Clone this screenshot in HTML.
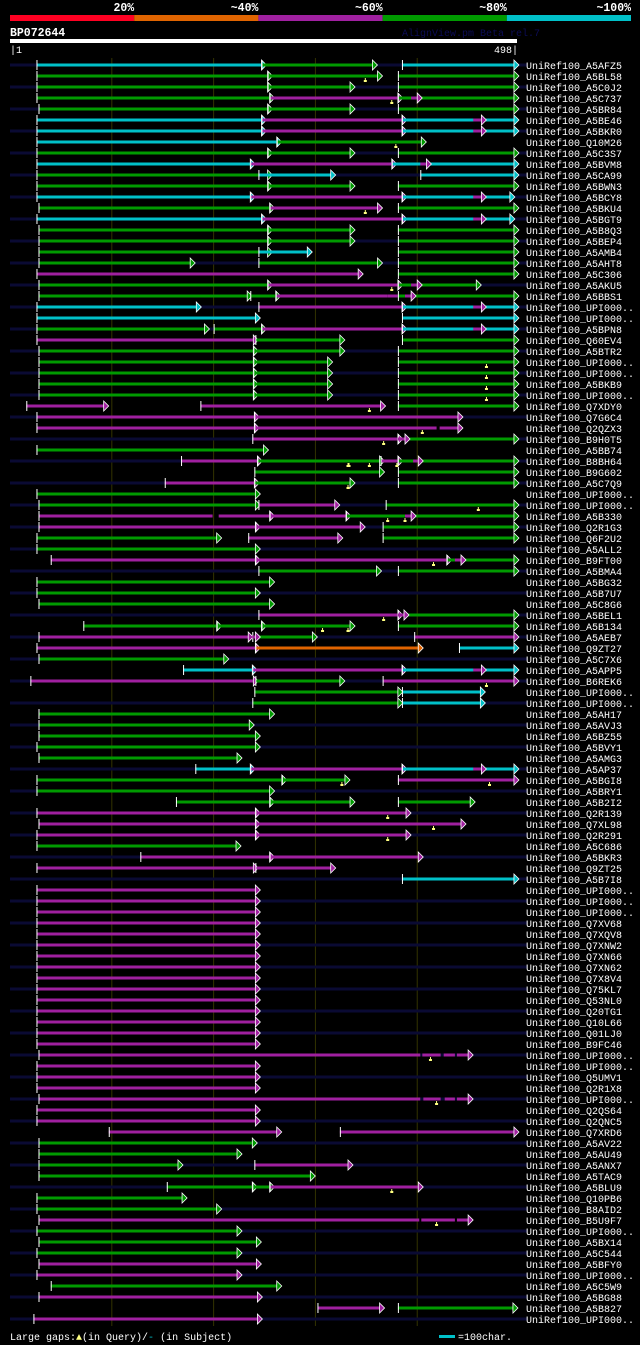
<!DOCTYPE html>
<html><head><meta charset="utf-8"><style>
html,body{margin:0;padding:0;background:#000;}
svg{display:block;font-family:"Liberation Mono",monospace;}
</style></head><body>
<svg id="chart" width="640" height="1345" viewBox="0 0 640 1345" xmlns="http://www.w3.org/2000/svg">
<rect x="0" y="0" width="640" height="1345" fill="#000"/>
<g id="legendbar"></g>
<text x="10" y="36" fill="#fff" font-size="11.5" font-weight="bold">BP072644</text>
<text x="402" y="36" fill="#0c0c55" font-size="10">AlignView.pm Beta rel.7</text>
<rect x="10" y="39" width="507" height="4" fill="#fff"/>
<text x="10" y="53" fill="#fff" font-size="10">|1</text>
<text x="518" y="53" fill="#fff" font-size="10" text-anchor="end">498|</text>
<g id="grid"></g>
<g id="rows"></g>
<text x="10" y="1340" fill="#fff" font-size="10">Large gaps:<tspan fill="#ffff80">▲</tspan>(in Query)/<tspan fill="#00c0c8">-</tspan> (in Subject)</text>
<rect x="439" y="1335" width="16" height="3" fill="#00c0c8"/>
<text x="458" y="1340" fill="#fff" font-size="10">=100char.</text>
</svg>
<script>
const legendLabels = ["20%","~40%","~60%","~80%","~100%"];
const legendColors = ["#ff0022","#e06400","#a020a0","#009a00","#00c0c8"];
const queryLength = 498;
const gridTicks = [100,200,300,400];
const rowLabels = ["A5AFZ5","A5BL58","A5C0J2","A5C737","A5BR84","A5BE46","A5BKR0","Q10M26","A5C3S7","A5BVM8","A5CA99","A5BWN3","A5BCY8","A5BKU4","A5BGT9","A5B8Q3","A5BEP4","A5AMB4","A5AHT8","A5C306","A5AKU5","A5BBS1","UPI000..","UPI000..","A5BPN8","Q60EV4","A5BTR2","UPI000..","UPI000..","A5BKB9","UPI000..","Q7XDY0","Q7G6C4","Q2QZX3","B9H0T5","A5BB74","B8BH64","B9G602","A5C7Q9","UPI000..","UPI000..","A5B330","Q2R1G3","Q6F2U2","A5ALL2","B9FT00","A5BMA4","A5BG32","A5B7U7","A5C8G6","A5BEL1","A5B134","A5AEB7","Q9ZT27","A5C7X6","A5APP5","B6REK6","UPI000..","UPI000..","A5AH17","A5AVJ3","A5BZ55","A5BVY1","A5AMG3","A5AP37","A5BGI8","A5BRY1","A5B2I2","Q2R139","Q7XL98","Q2R291","A5C686","A5BKR3","Q9ZT25","A5B7I8","UPI000..","UPI000..","UPI000..","Q7XV68","Q7XQV8","Q7XNW2","Q7XN66","Q7XN62","Q7X8V4","Q75KL7","Q53NL0","Q20TG1","Q10L66","Q01LJ0","B9FC46","UPI000..","UPI000..","Q5UMV1","Q2R1X8","UPI000..","Q2QS64","Q2QNC5","Q7XRD6","A5AV22","A5AU49","A5ANX7","A5TAC9","A5BLU9","Q10PB6","B8AID2","B5U9F7","UPI000..","A5BX14","A5C544","A5BFY0","UPI000..","A5C5W9","A5BG88","A5B827","UPI000.."];
const M41 = "26-241m";
const rowSegments = ["26-247c,247-356g,385-495c","26-253g,253-361g,381-495g","26-253g,253-334g,381-495g","26-255g,255-381m,381-495g,394-400M","28-253g,253-334g,381-495g","26-247c,247-385m,385-495c,455-463M","26-247c,247-385m,385-495c,455-463M","26-262c,262-404g","26-253g,253-334g,381-495g","26-236c,236-375m,375-495c,403-409M","26-253g,244-315c,403-495c","26-253g,253-334g,381-495g","26-236c,236-385m,385-491c,455-463M","28-255g,255-361m,381-495g","26-247c,247-385m,385-491c,455-463M","28-253g,253-334g,381-495g","28-253g,253-334g,381-495g","28-253g,244-292c,381-495g","28-177g,244-361g,381-495g","26-342m,381-495g","28-253g,253-381m,381-458g,394-400M","28-233g,236-261g,261-371m*,371-381M*,381-495g,388-394M","26-183c,244-385m,385-495c,455-463M","26-241c,385-495c","26-191g,200-247g,247-385m,385-495c,455-463M","26-239m,241-324g,385-495g","28-239g,239-324g,381-495g","28-239g,239-312g,381-495g","28-239g,239-312g,381-495g","28-239g,239-312g,381-495g","28-239g,239-312g,381-495g","16-92m,187-364m,381-495g","26-240m,240-440m","26-240m,240-419m*,422-440M","238-381m,381-495g,381-388M","26-249g","168-243m,243-363g,364-381m,381-495g,396-401M","240-363g,381-495g","152-240m,240-334g,381-495g","26-241g","28-241g,244-319m,369-495g","28-199m*,205-255M,255-330m,330-495g,388-394M","28-241m,241-344m,366-495g","26-203g,234-322m,366-495g","26-241g","40-241m,241-429m,429-495g,437-443M","244-360g,381-495g","26-255g","26-241g","28-255g","244-381m,381-495g,381-387M","72-203g,203-247g,247-334g,381-495g","28-234m,238-297g,397-495m,238-241M","26-241m,241-401o,441-495c","28-210g","170-238c,238-385m,385-495c,455-463M","20-239m,241-324g,366-495m","240-381g,385-462c","238-381g,385-462c","28-255g","28-235g","28-241g","26-241g","28-223g","182-236c,236-385m,385-495c,455-463M","26-267g,267-329g,381-495m","26-205g*,205-255G","163-255g,255-334g,381-452g","26-241m,241-389m","28-241m,241-443m","26-241m,241-389m","26-222g","128-255m,255-401m","26-239m,241-315m","385-495c",M41,M41,M41,M41,M41,M41,M41,M41,M41,M41,M41,M41,M41,M41,M41,"28-403m*,405-423M*,426-437M*,439-450M",M41,M41,M41,"28-403m*,406-423M*,427-437M*,439-450M",M41,M41,"97-262m,324-495m","28-238g","28-223g","28-165g,240-332m","28-295g","154-238g,238-255g,255-401m","26-169g","26-203g","28-402m*,404-437M*,439-450M","26-223g","28-242g","26-223g","28-242m","26-223m","40-262g","28-243m","302-363m,381-494g","23-243m"];
const gapRows = [2,4,8,14,21,28,29,30,31,32,34,35,37,37,37,37,39,41,42,42,46,51,52,52,57,66,66,69,70,71,91,95,103,106];
const gapPositions = [349,375,379,349,375,468,468,468,468,353,405,367,332,333,353,380,332,460,371,388,416,367,307,332,468,326,471,371,416,371,413,419,375,419];

const NS = "http://www.w3.org/2000/svg";
const colorMap = {c:"#00c0c8", g:"#009a00", m:"#a020a0", o:"#e06400"};
const X0 = 10, PX = 507/queryLength;
function xs(r){ return X0 + r*PX; }
function rowY(i){ return 65 + i*11; }
function mk(tag, attrs, parent){
  const el = document.createElementNS(NS, tag);
  for (const k in attrs) el.setAttribute(k, attrs[k]);
  parent.appendChild(el);
  return el;
}
const lg = document.getElementById('legendbar');
legendLabels.forEach((lab, i) => {
  const r = mk('rect', {x: 10 + i*124.2, y: 15, width: 124.2, height: 6, fill: legendColors[i]}, lg);
  
  
  const t = mk('text', {x: 10 + (i+1)*124.2, y: 11, fill: '#fff', 'font-size': 11.5, 'font-weight': 'bold', 'text-anchor': 'end'}, lg);
  t.textContent = lab;
  
  
});
const gg = document.getElementById('grid');
gridTicks.forEach(v => {
  const l = mk('line', {x1: xs(v), x2: xs(v), y1: 58, y2: 1326, stroke: '#333300', 'stroke-width': 1}, gg);
  
  
});
const rg = document.getElementById('rows');
rowLabels.forEach((lab, i) => {
  const y = rowY(i);
  const g = mk('g', {}, rg);
  
  
  if (i % 2 === 0) {
    const bg = mk('rect', {x: 10, y: y-1.5, width: 517, height: 3, fill: '#0a0a33'}, g);
    
    
  }
  rowSegments[i].split(',').forEach(s => {
    const m = s.match(/(\d+)-(\d+)([a-zA-Z])(\*?)/);
    const a = +m[1], b = +m[2];
    const noTick = m[3] === m[3].toUpperCase();
    const noArrow = m[4] === '*';
    const col = colorMap[m[3].toLowerCase()];
    const x1 = xs(a), x2 = xs(b);
    const line = mk('rect', {x: x1, y: y-1.5, width: Math.max(1, x2-x1), height: 3, fill: col}, g);
    
    
    if (!noTick) {
      const tick = mk('line', {x1: x1+0.5, x2: x1+0.5, y1: y-5, y2: y+5, stroke: '#fff', 'stroke-width': 1}, g);
      
      
    }
    if (!noArrow) {
      const arr = mk('polygon', {points: `${x2},${y-5} ${x2+5},${y} ${x2},${y+5}`, fill: col, stroke: '#fff', 'stroke-width': 0.8}, g);
      
      
    }
  });
  const t = mk('text', {x: 526, y: y+4, fill: '#fff', 'font-size': 10}, g);
  t.textContent = 'UniRef100_' + lab;
  
  
});
gapRows.forEach((row, k) => {
  const y = rowY(row-1);
  const x = xs(gapPositions[k]);
  const gm = mk('path', {d: `M${x-1.5} ${y+6} H${x+1.5} V${y+4} H${x+0.5} V${y+2} H${x-0.5} V${y+4} H${x-1.5} Z`, fill: '#ffff80'}, rg);
  
  
});
</script>
</body></html>
